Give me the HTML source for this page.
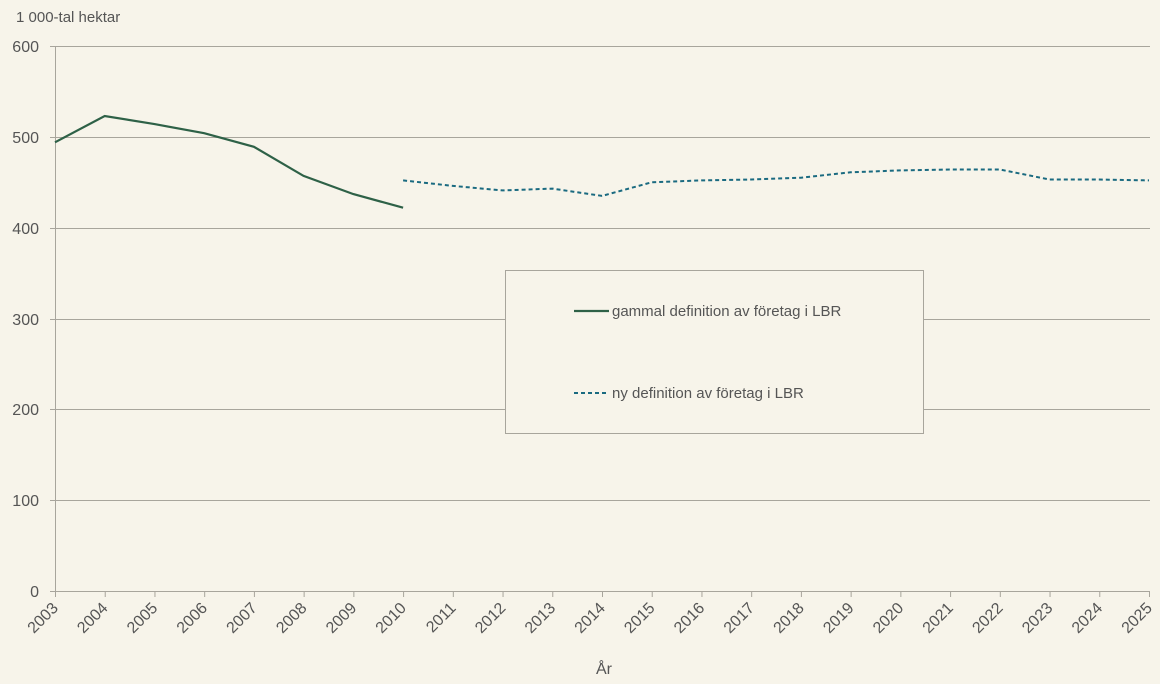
<!DOCTYPE html>
<html><head><meta charset="utf-8"><style>
body{margin:0;background:#f7f4ea;}
svg{display:block;font-family:"Liberation Sans",sans-serif;}
</style></head><body>
<svg width="1160" height="684" viewBox="0 0 1160 684">
<rect width="1160" height="684" fill="#f7f4ea"/>
<g stroke="#a8a59c" stroke-width="1">
<line x1="50" y1="46.5" x2="1150" y2="46.5"/>
<line x1="50" y1="137.5" x2="1150" y2="137.5"/>
<line x1="50" y1="228.5" x2="1150" y2="228.5"/>
<line x1="50" y1="319.5" x2="1150" y2="319.5"/>
<line x1="50" y1="409.5" x2="1150" y2="409.5"/>
<line x1="50" y1="500.5" x2="1150" y2="500.5"/>
<line x1="50" y1="591.5" x2="1150" y2="591.5"/>
<line x1="55.5" y1="46" x2="55.5" y2="597"/>
</g>
<g stroke="#a8a59c" id="ticks"></g>
<g fill="#555" font-size="16" text-anchor="end">
<text x="39" y="52">600</text><text x="39" y="143">500</text><text x="39" y="234">400</text>
<text x="39" y="325">300</text><text x="39" y="415">200</text><text x="39" y="506">100</text><text x="39" y="597">0</text>
</g>
<text x="16" y="22" fill="#555" font-size="15">1 000-tal hektar</text>
<text x="604" y="674" fill="#555" font-size="16" text-anchor="middle">År</text>
<g id="xl" fill="#555" font-size="16" text-anchor="end"></g>
<polyline fill="none" stroke="#2e6147" stroke-width="2.2" points="55,142.3 104.7,116 154.5,124.1 204.2,133.2 253.9,146.8 303.6,175.9 353.4,194.1 403.1,207.7"/>
<polyline fill="none" stroke="#1a6a80" stroke-width="2" stroke-dasharray="4,3" points="403.1,180.4 452.8,185.9 502.5,190.4 552.3,188.6 602,195.9 651.7,182.3 701.5,180.4 751.2,179.5 800.9,177.7 850.6,172.3 900.4,170.4 950.1,169.5 999.8,169.5 1049.5,179.5 1099.3,179.5 1149,180.4"/>
<rect x="505.5" y="270.5" width="418" height="163" fill="#f7f4ea" stroke="#a8a59c"/>
<line x1="574" y1="311" x2="609" y2="311" stroke="#2e6147" stroke-width="2.2"/>
<text x="612" y="316" fill="#555" font-size="15">gammal definition av företag i LBR</text>
<line x1="574" y1="393" x2="609" y2="393" stroke="#1a6a80" stroke-width="2" stroke-dasharray="4,3"/>
<text x="612" y="398" fill="#555" font-size="15">ny definition av företag i LBR</text>
<script>
var t=document.getElementById('ticks'),l=document.getElementById('xl'),ns='http://www.w3.org/2000/svg';
for(var i=0;i<=22;i++){var x=55+i*49.727;
var ln=document.createElementNS(ns,'line');ln.setAttribute('x1',x+.5);ln.setAttribute('x2',x+.5);ln.setAttribute('y1',591);ln.setAttribute('y2',597);t.appendChild(ln);
var tx=document.createElementNS(ns,'text');tx.setAttribute('transform','translate('+(x+4)+',609) rotate(-45)');tx.textContent=2003+i;l.appendChild(tx);}
</script>
</svg>
</body></html>
